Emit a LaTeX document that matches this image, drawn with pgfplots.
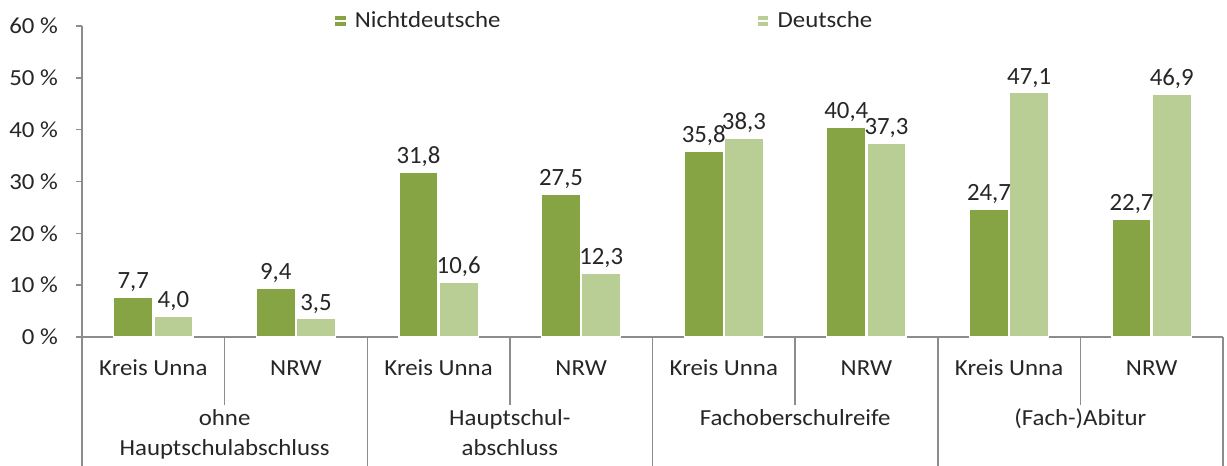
\documentclass[border=0pt]{standalone}
\usepackage{fontspec}
\setmainfont{Carlito}[FakeStretch=1.08]
\newfontfamily\labfont{Carlito}
\usepackage{pgfplots}
\pgfplotsset{compat=1.18}
\definecolor{dgreen}{HTML}{86A443}
\definecolor{lgreen}{HTML}{B9CE94}
\definecolor{axgray}{HTML}{8C8C8C}
\definecolor{txt}{HTML}{262626}
\begin{document}
\fontsize{11.5}{15}\selectfont
\begin{tikzpicture}
\useasboundingbox (-41pt,-64.5pt) rectangle (572.5pt,168.5pt);
\begin{axis}[
  at={(0,0)}, anchor=south west,
  width=570.5pt, height=155.5pt, scale only axis,
  ymin=0, ymax=60, xmin=-0.5, xmax=7.5,
  ybar=0.6pt, bar width=19.5pt,
  axis x line*=bottom, axis y line*=left,
  axis line style={axgray, line width=0.75pt},
  tick align=outside, major tick length=3pt,
  ytick={0,10,...,60},
  yticklabel={\pgfmathprintnumber{\tick}~\%},
  yticklabel style={color=txt, xshift=-5pt, font=\fontsize{11.5}{15}\selectfont, /pgf/number format/assume math mode=true},
  ytick style={axgray, line width=0.75pt},
  xtick=data,
  xticklabels={Kreis Unna, NRW, Kreis Unna, NRW, Kreis Unna, NRW, Kreis Unna, NRW},
  xticklabel style={anchor=center, yshift=-12.5pt, color=txt, font=\fontsize{11.5}{15}\selectfont},
  x tick style={draw=none},
  clip=false,
  nodes near coords,
  every node near coord/.append style={color=txt, font=\labfont\fontsize{12.4}{15}\selectfont, inner sep=2.5pt,
    /pgf/number format/.cd, fixed, fixed zerofill, precision=1, use comma, assume math mode=true},
  legend columns=2,
  legend style={draw=none, fill=none, at={(rel axis cs:0.215,1.016)}, anchor=west,
    font=\fontsize{11.5}{15}\selectfont, text=txt,
    /tikz/every odd column/.append style={column sep=0pt},
    /tikz/every even column/.append style={column sep=126pt}},
  legend image code/.code={\fill[#1] (0pt,-3pt) rectangle (6pt,3pt); \path (0pt,0pt) -- (8pt,0pt);},
]
\addplot[fill=dgreen, draw=white, line width=0.6pt] coordinates {(0,7.7) (1,9.4) (2,31.8) (3,27.5) (4,35.8) (5,40.4) (6,24.7) (7,22.7)};
\addplot[fill=lgreen, draw=white, line width=0.6pt] coordinates {(0,4.0) (1,3.5) (2,10.6) (3,12.3) (4,38.3) (5,37.3) (6,47.1) (7,46.9)};
\legend{Nichtdeutsche, Deutsche}
\pgfplotsinvokeforeach{0.5,2.5,4.5,6.5}{
  \draw[axgray, line width=0.75pt] (axis cs:#1,0) -- ++(0pt,-34pt);
}
\pgfplotsinvokeforeach{-0.5,1.5,3.5,5.5,7.5}{
  \draw[axgray, line width=0.75pt] (axis cs:#1,0) -- ++(0pt,-64.5pt);
}
\node[anchor=base, align=center, text=txt, font=\fontsize{11.5}{15}\selectfont] at (axis cs:0.5,0) [yshift=-59pt] {ohne\\Hauptschulabschluss};
\node[anchor=base, align=center, text=txt, font=\fontsize{11.5}{15}\selectfont] at (axis cs:2.5,0) [yshift=-59pt] {Hauptschul-\\abschluss};
\node[anchor=base, align=center, text=txt, font=\fontsize{11.5}{15}\selectfont] at (axis cs:4.5,0) [yshift=-44pt] {Fachoberschulreife};
\node[anchor=base, align=center, text=txt, font=\fontsize{11.5}{15}\selectfont] at (axis cs:6.5,0) [yshift=-44pt] {(Fach-)Abitur};
\end{axis}
\end{tikzpicture}
\end{document}
